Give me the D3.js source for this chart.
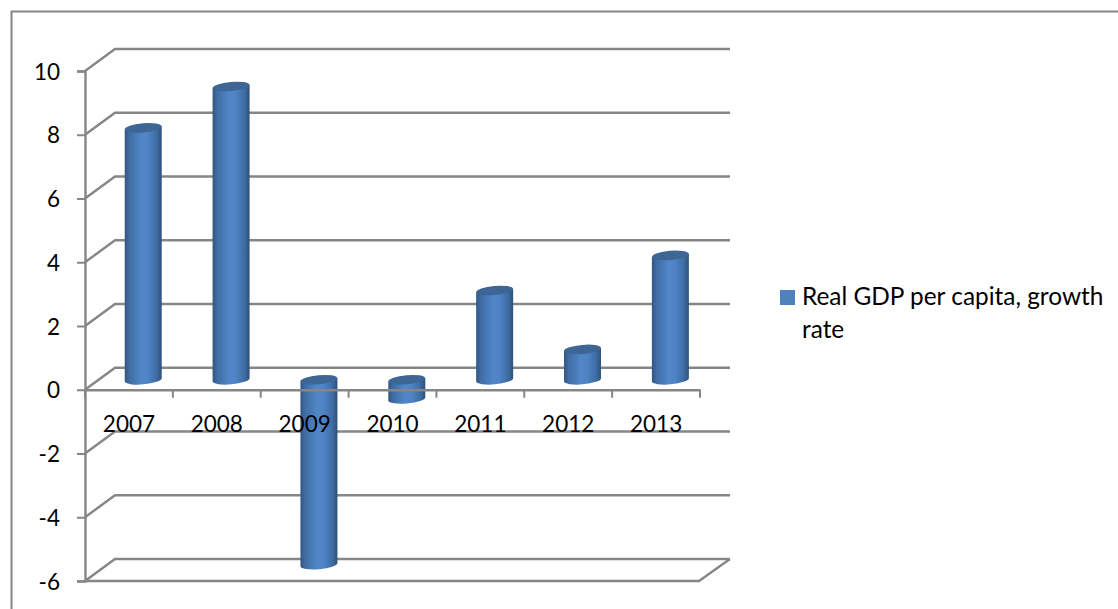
<!DOCTYPE html>
<html><head><meta charset="utf-8">
<script src="https://cdnjs.cloudflare.com/ajax/libs/d3/7.8.5/d3.min.js"></script>
<style>html,body{margin:0;background:#fff}svg{display:block}text{font-family:Lato,"Open Sans",sans-serif;fill:#000}</style>
</head><body><svg id="c" width="1118" height="609"></svg>
<script>
const years = ["2007","2008","2009","2010","2011","2012","2013"];
const growth = [7.9, 9.2, -5.8, -0.6, 2.8, 0.95, 3.9];
const yTicks = [10,8,6,4,2,0,-2,-4,-6];
const legendLines = ["Real GDP per capita, growth","rate"];

const svg = d3.select("#c");
const W = 1118, H = 609;
const y = d3.scaleLinear().domain([-6,10]).range([581,71]);
const x = d3.scaleBand().domain(years).range([85,700]);
const depth = {dx:30, dy:-22};
const mid = {dx:14.3, dy:-10};
const barW = 37, rx = 18.5, ry = 4.6, tilt = -5;
const grey = "#868686";

const defs = svg.append("defs");
const g = defs.append("linearGradient").attr("id","cyl");
[[0,"#32567f"],[0.12,"#3f6ca3"],[0.45,"#5186c8"],[0.62,"#4f83c4"],[0.85,"#3f6ea6"],[1,"#2f5279"]]
  .forEach(s=>g.append("stop").attr("offset",s[0]).attr("stop-color",s[1]));

// outer frame
svg.append("rect").attr("x",11.5).attr("y",11.5).attr("width",W+20).attr("height",H+20)
  .attr("fill","none").attr("stroke",grey).attr("stroke-width",2);

// back wall gridlines and side diagonals
const grid = svg.append("g").attr("stroke",grey).attr("stroke-width",2.4).attr("fill","none");
yTicks.forEach(t=>{
  const yy = y(t);
  grid.append("path").attr("d",d3.line()([[85,yy],[85+depth.dx,yy+depth.dy],[730,yy+depth.dy]]));
});
// floor
grid.append("path").attr("d",d3.line()([[85,y(-6)],[699,y(-6)],[730,y(-6)+depth.dy]]));

// cylinders
const bars = svg.append("g");
years.forEach((yr,i)=>{
  const v = growth[i];
  const cx = x(yr)+x.bandwidth()/2+mid.dx;
  const y0 = y(0)+mid.dy, y1 = y(v)+mid.dy;
  const topY = Math.min(y0,y1), botY = Math.max(y0,y1);
  const sl = Math.sin(tilt*Math.PI/180)*rx; // edge offset due to tilt
  const b = bars.append("g");
  b.append("path")
    .attr("d",`M${cx-barW/2},${topY-sl} L${cx+barW/2},${topY+sl} L${cx+barW/2},${botY+sl} A${rx},${ry} ${tilt} 0 1 ${cx-barW/2},${botY-sl} Z`)
    .attr("fill","url(#cyl)");
  b.append("ellipse").attr("cx",cx).attr("cy",topY).attr("rx",rx).attr("ry",ry)
    .attr("transform",`rotate(${tilt} ${cx} ${topY})`).attr("fill","#3d6694");
});

// value axis
const yAxis = d3.axisLeft(y).tickValues(yTicks).tickSize(8).tickPadding(17).tickFormat(d=>String(d));
const ya = svg.append("g").attr("transform","translate(85,0)").call(yAxis);
ya.select(".domain").attr("stroke",grey).attr("stroke-width",2.4);
ya.selectAll("line").attr("stroke",grey).attr("stroke-width",2);
ya.selectAll("text").attr("font-size",22.5).attr("font-family","Lato").attr("fill","#000").attr("dy","0.36em");

// category axis at zero
const xAxis = d3.axisBottom(x).tickSize(0).tickPadding(0);
const xa = svg.append("g").attr("transform",`translate(0,${y(0)})`).call(xAxis);
xa.select(".domain").attr("stroke",grey).attr("stroke-width",2.4);
xa.selectAll("text").attr("font-size",22.5).attr("font-family","Lato").attr("fill","#000").attr("y",42).attr("dy",0);
const step = x.step();
svg.append("g").selectAll("line").data(d3.range(years.length+1)).join("line")
  .attr("x1",i=>85+i*step).attr("x2",i=>85+i*step)
  .attr("y1",y(0)).attr("y2",y(0)+8).attr("stroke",grey).attr("stroke-width",2);

// legend
svg.append("rect").attr("x",780).attr("y",290).attr("width",15).attr("height",15).attr("fill","#4f81bd");
legendLines.forEach((l,i)=>svg.append("text").attr("x",802).attr("y",305+i*33).attr("font-size",24.4).text(l));
</script></body></html>
